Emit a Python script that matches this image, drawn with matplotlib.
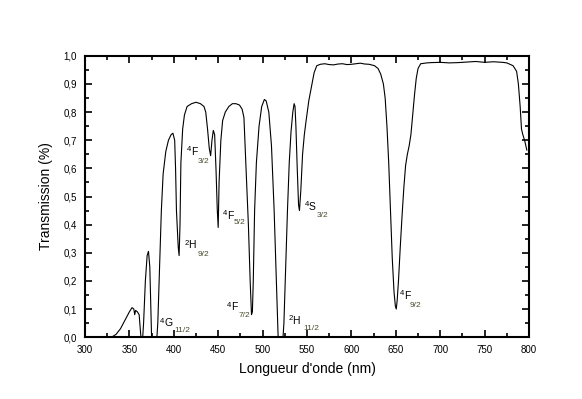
import matplotlib
matplotlib.use('Agg')
import matplotlib.pyplot as plt
from matplotlib.ticker import MultipleLocator, FuncFormatter

# spectre de transmission
wl = [330, 335, 340, 345, 350, 353, 355, 356, 357, 359, 361, 362, 363,
      365, 366, 368, 370, 371.5, 373, 374, 375,
      381, 382, 384, 386, 388, 391, 394, 397, 399, 401, 402, 403, 405, 406,
      407, 408, 410, 412, 415, 420, 425, 430, 434, 436, 438, 440, 441.5,
      443, 444.5, 446, 447.5, 449, 450, 451, 453, 455, 458, 462, 466, 470,
      474, 477, 479, 480, 482, 484, 486, 487.5, 488.5, 489.5, 491, 493, 496,
      499, 502, 504, 507, 510, 513, 516, 517.5,
      523, 524, 526, 528, 530, 532, 534, 535.5, 536.5, 537.5, 539, 540.5,
      541.5, 543, 545, 547, 549, 552, 555, 558, 561, 565, 570, 575, 580,
      585, 590, 595, 600, 605, 610, 615, 620, 626, 630, 633, 636, 638, 640,
      642, 644, 646, 648, 649.5, 650.5, 651.5, 653, 655, 657, 659, 661, 663,
      665, 667, 669, 671, 673, 675, 678, 685, 690, 700, 710, 720, 730, 740,
      750, 760, 770, 775, 782, 786, 788, 790, 791.5, 793, 795, 797.5]
trans = [0.0, 0.01, 0.03, 0.06, 0.09, 0.105, 0.10, 0.08, 0.095, 0.09, 0.08, 0.04, 0.0,
         0.0, 0.05, 0.20, 0.29, 0.305, 0.25, 0.12, 0.0,
         0.0, 0.05, 0.25, 0.45, 0.58, 0.66, 0.70, 0.72, 0.725, 0.70, 0.60, 0.45, 0.32, 0.29,
         0.40, 0.62, 0.74, 0.79, 0.82, 0.83, 0.835, 0.83, 0.82, 0.80, 0.74, 0.67, 0.645,
         0.70, 0.735, 0.72, 0.60, 0.45, 0.39, 0.55, 0.70, 0.77, 0.80, 0.82, 0.83, 0.83,
         0.825, 0.81, 0.78, 0.70, 0.55, 0.40, 0.20, 0.08, 0.09, 0.20, 0.45, 0.62, 0.75,
         0.82, 0.845, 0.84, 0.80, 0.68, 0.45, 0.15, 0.0,
         0.0, 0.05, 0.25, 0.45, 0.62, 0.73, 0.80, 0.83, 0.82, 0.75, 0.60, 0.47,
         0.45, 0.52, 0.65, 0.72, 0.77, 0.84, 0.89, 0.94, 0.965, 0.970, 0.972, 0.969, 0.968,
         0.971, 0.972, 0.969, 0.970, 0.972, 0.974, 0.971, 0.970, 0.965, 0.955, 0.935, 0.90, 0.85, 0.75,
         0.62, 0.45, 0.28, 0.16, 0.11, 0.10, 0.13, 0.20, 0.32, 0.43, 0.53, 0.61, 0.65,
         0.68, 0.72, 0.79, 0.86, 0.92, 0.955, 0.972, 0.975, 0.976, 0.977, 0.975, 0.976, 0.978, 0.980,
         0.977, 0.979, 0.977, 0.975, 0.965, 0.945, 0.90, 0.82, 0.74, 0.72, 0.70, 0.665]

# niveaux : (exposant, lettre, indice, x, y)
niveaux = [('4', 'G', '11/2', 384.5, 0.057),
           ('4', 'F', '3/2', 414.5, 0.666),
           ('2', 'H', '9/2', 411.8, 0.334),
           ('4', 'F', '5/2', 455, 0.438),
           ('4', 'F', '7/2', 459.5, 0.114),
           ('2', 'H', '11/2', 529, 0.066),
           ('4', 'S', '3/2', 547.7, 0.47),
           ('4', 'F', '9/2', 654.7, 0.155)]
decal_indice = [(14, -9), (11, -12), (13, -11), (11, -9),
                (12, -10), (15, -10), (12, -11), (10, -12)]

plt.rcParams['font.family'] = ['Liberation Sans', 'DejaVu Sans']
fig = plt.figure(figsize=(5.82, 3.99), dpi=100)
ax = fig.add_axes([0.146, 0.155, 0.763, 0.705])

ax.plot(wl, trans, color='black', lw=0.8)

for (e, l, s, x, y), (dx, dy) in zip(niveaux, decal_indice):
    ax.annotate(e, (x, y), xytext=(0, 0), textcoords='offset pixels',
                fontsize=5.5, ha='left', va='center')
    ax.annotate(l, (x, y), xytext=(4, -2), textcoords='offset pixels',
                fontsize=7.5, ha='left', va='center')
    ax.annotate(s, (x, y), xytext=(dx, dy), textcoords='offset pixels',
                fontsize=6, ha='left', va='center', color='#4a4a30')

ax.set_xlim(300, 800)
ax.set_ylim(0, 1.0)
ax.xaxis.set_major_locator(MultipleLocator(50))
ax.xaxis.set_minor_locator(MultipleLocator(25))
ax.yaxis.set_major_locator(MultipleLocator(0.1))
ax.yaxis.set_minor_locator(MultipleLocator(0.05))
ax.yaxis.set_major_formatter(FuncFormatter(lambda v, p: ('%.1f' % v).replace('.', ',')))
ax.tick_params(which='both', direction='in', top=True, right=True, labelsize=7, width=1.2)
ax.tick_params(which='major', length=5, pad=6)
ax.tick_params(which='minor', length=3)
for sp in ax.spines.values():
    sp.set_linewidth(1.5)

ax.set_xlabel("Longueur d'onde (nm)", fontsize=10, labelpad=5)
ax.set_ylabel('Transmission (%)', fontsize=10, labelpad=7)

fig.savefig('out.png', dpi=100)
